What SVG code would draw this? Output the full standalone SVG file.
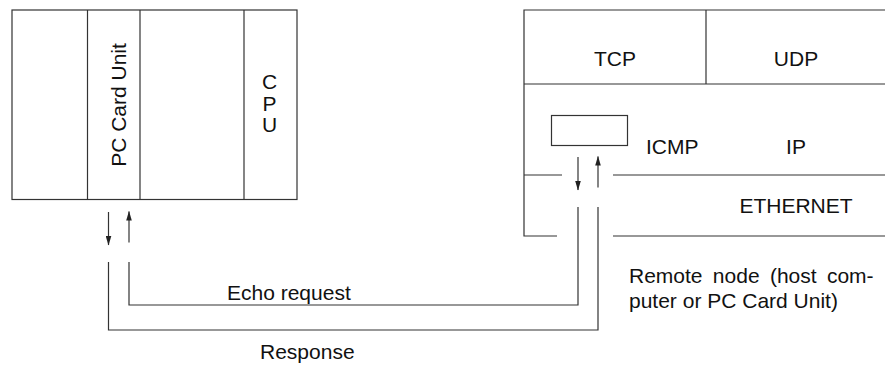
<svg xmlns="http://www.w3.org/2000/svg" width="885" height="365" viewBox="0 0 885 365">
<style>
.ln{fill:none;stroke:#333;stroke-width:1.2}
.bx{fill:#fff;stroke:#333;stroke-width:1.2}
text{font-family:"Liberation Sans",Arial,sans-serif;font-size:21px;fill:#111}
.c{text-anchor:middle}
</style>
<defs>
<marker id="ah" markerUnits="userSpaceOnUse" markerWidth="10" markerHeight="6" refX="9" refY="3" orient="auto">
<path d="M0,0.2 L9.5,3 L0,5.8 z" fill="#222"/>
</marker>
</defs>
<rect width="885" height="365" fill="#fff"/>
<g id="plc">
<rect class="bx" x="12" y="10" width="285" height="189.5"/>
<line class="ln" x1="87.5" y1="10" x2="87.5" y2="199.5"/>
<line class="ln" x1="140" y1="10" x2="140" y2="199.5"/>
<line class="ln" x1="244" y1="10" x2="244" y2="199.5"/>
<text class="c" transform="translate(126,105) rotate(-90)">PC Card Unit</text>
<text class="c" x="269.5" y="89">C</text>
<text class="c" x="269.5" y="110.5">P</text>
<text class="c" x="269.5" y="132">U</text>
</g>
<g id="remote">
<polyline class="ln" points="885,10 524,10 524,236 557,236"/>
<line class="ln" x1="613" y1="236" x2="885" y2="236"/>
<line class="ln" x1="706" y1="10" x2="706" y2="84"/>
<line class="ln" x1="524" y1="84" x2="885" y2="84"/>
<line class="ln" x1="524" y1="175" x2="562" y2="175"/>
<line class="ln" x1="613" y1="175" x2="885" y2="175"/>
<rect class="bx" x="551.5" y="115.5" width="76" height="30"/>
<text class="c" x="615" y="66">TCP</text>
<text class="c" x="796" y="66">UDP</text>
<text x="646" y="154">ICMP</text>
<text class="c" x="796" y="154">IP</text>
<text class="c" x="796" y="213">ETHERNET</text>
</g>
<g id="remote-label">
<text x="629" y="283" word-spacing="4.5">Remote node (host com-</text>
<text x="629" y="308">puter or PC Card Unit)</text>
</g>
<g id="connectors">
<line class="ln" x1="108.5" y1="212" x2="108.5" y2="245" marker-end="url(#ah)"/>
<line class="ln" x1="129" y1="242.5" x2="129" y2="211.5" marker-end="url(#ah)"/>
<line class="ln" x1="578" y1="157" x2="578" y2="190" marker-end="url(#ah)"/>
<line class="ln" x1="598" y1="187.5" x2="598" y2="156.5" marker-end="url(#ah)"/>
<polyline class="ln" points="129,262 129,305 578,305 578,207"/>
<polyline class="ln" points="108.5,262 108.5,330 598,330 598,207"/>
<text x="227" y="300">Echo request</text>
<text x="260" y="359">Response</text>
</g>
</svg>
